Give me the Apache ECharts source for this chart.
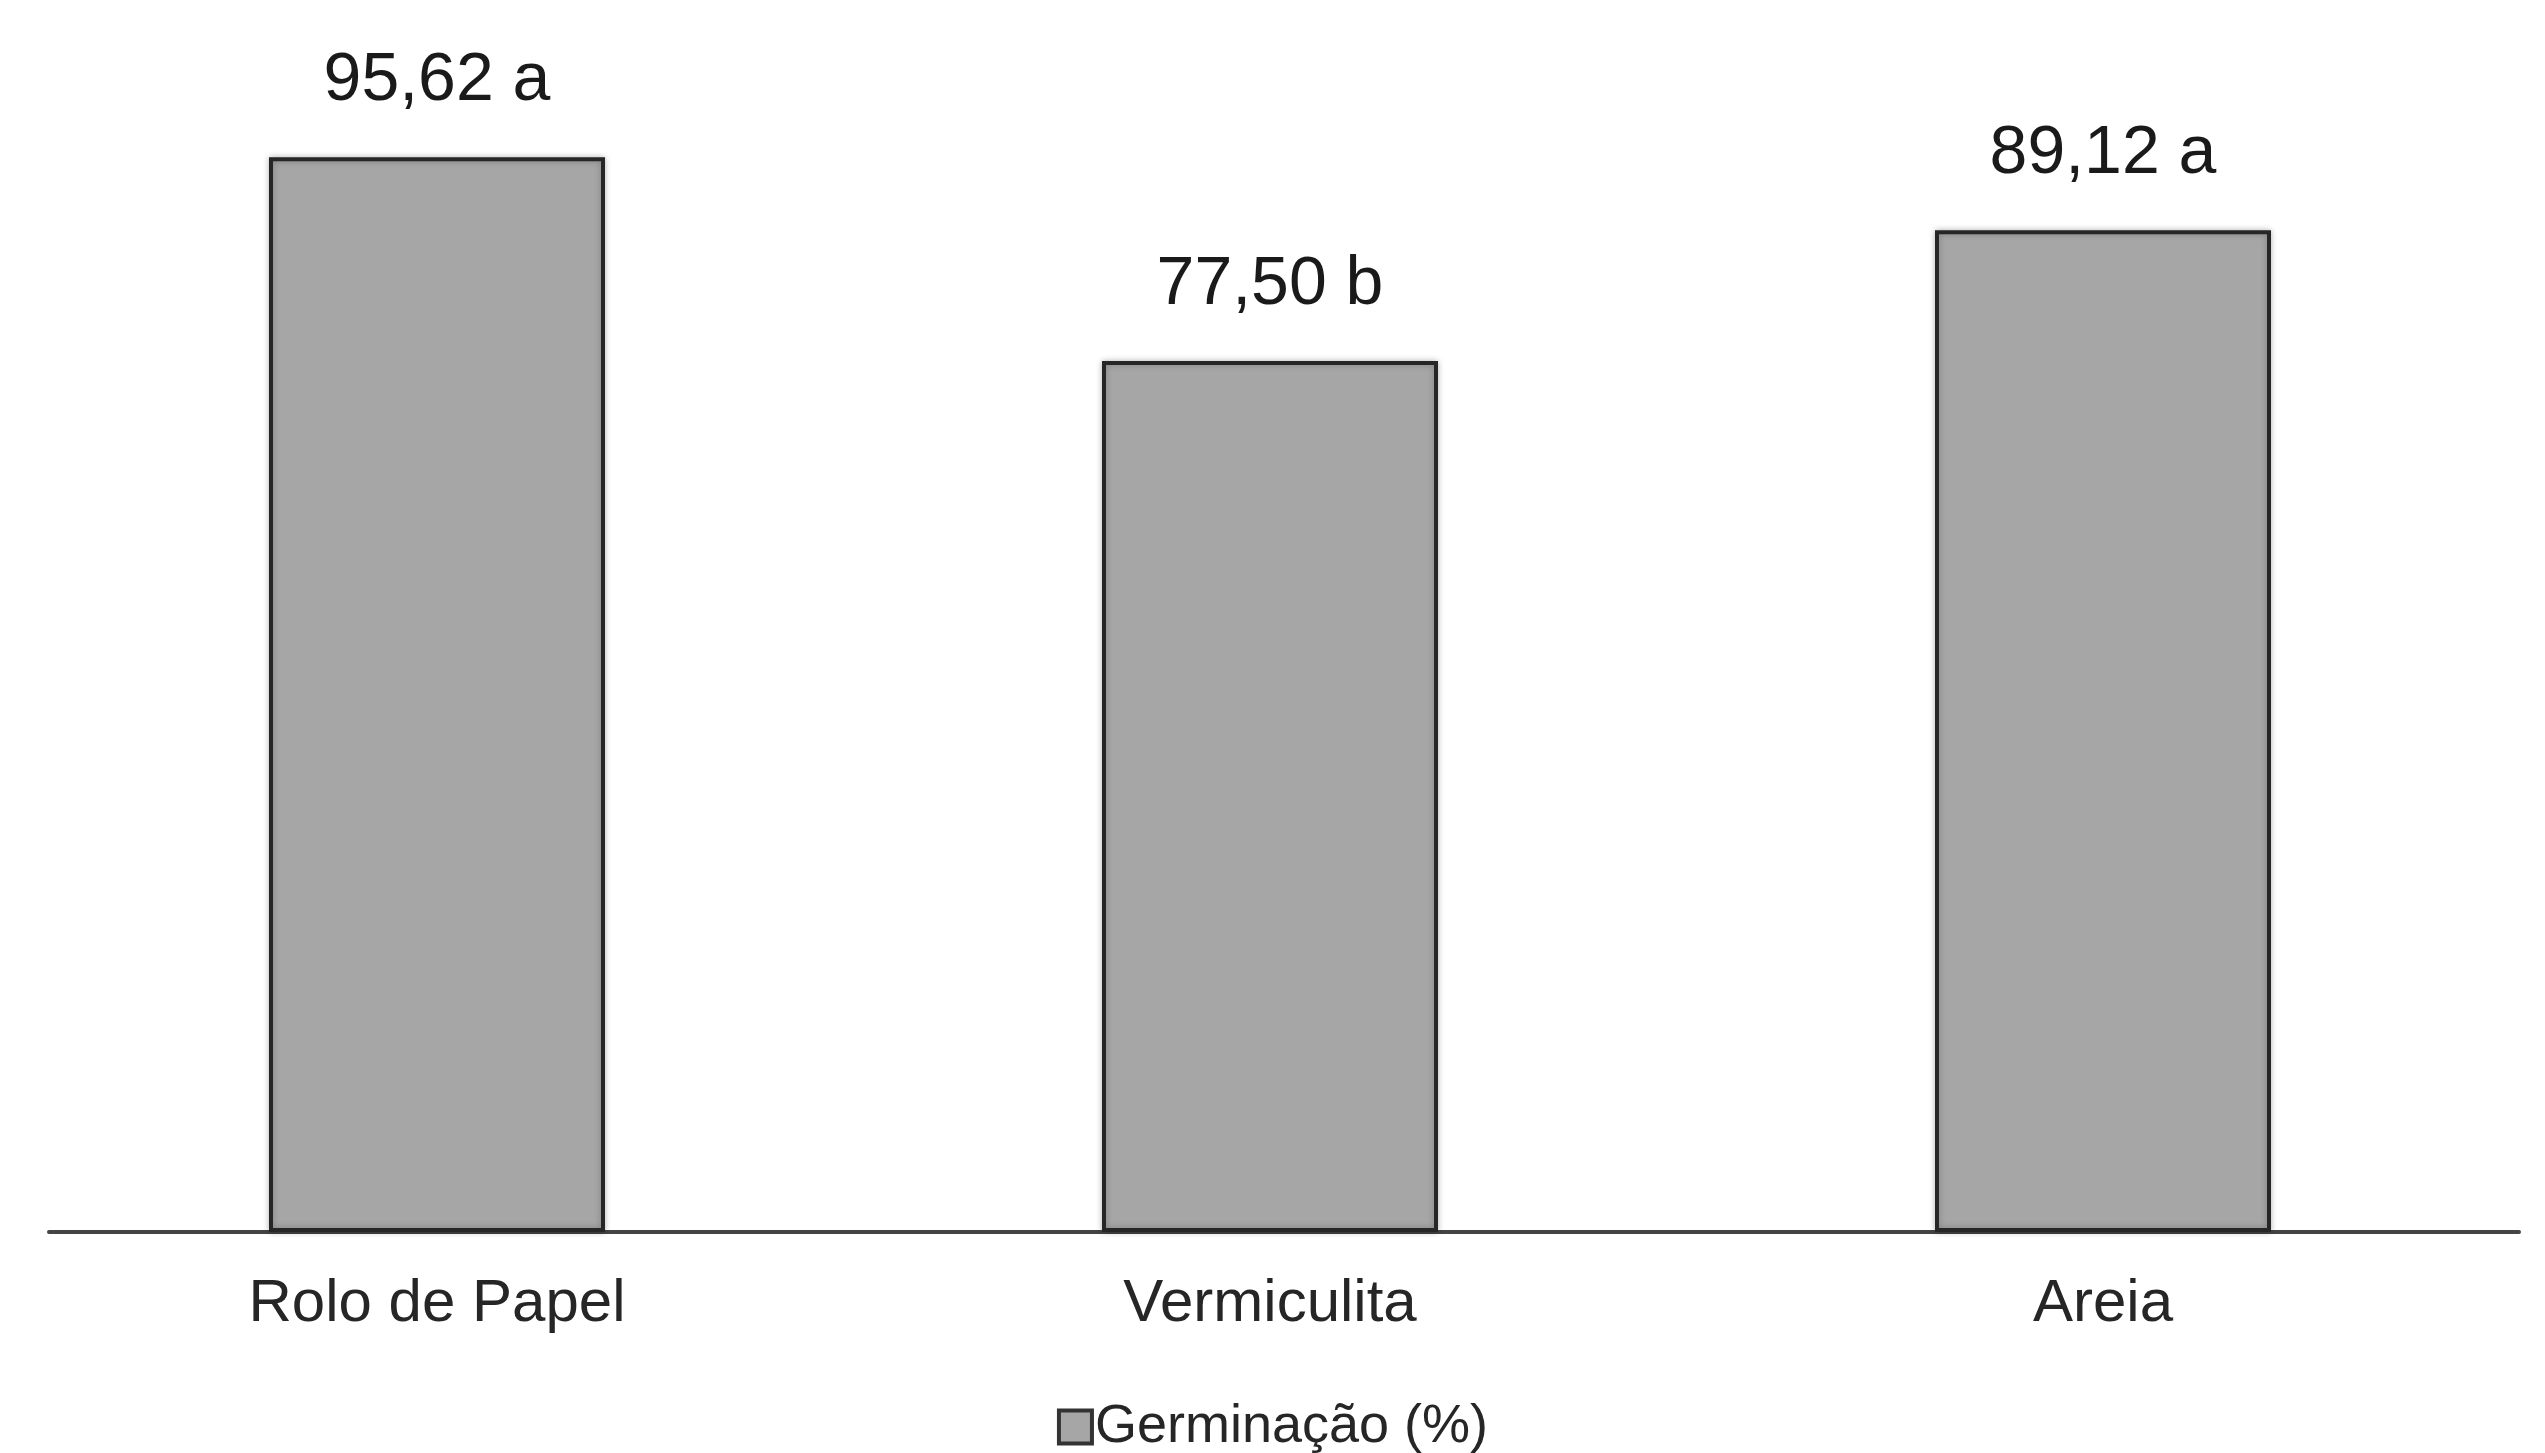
<!DOCTYPE html>
<html>
<head>
<meta charset="utf-8">
<script src="https://cdn.jsdelivr.net/npm/echarts@6/dist/echarts.min.js"></script>
<style>html,body{margin:0;padding:0;background:#fff;}#c{width:2545px;height:1453px;}</style>
</head>
<body>
<div id="c"></div>
<script>
const categories = ['Rolo de Papel', 'Vermiculita', 'Areia'];
const values = [95.62, 77.50, 89.12];
const letters = ['a', 'b', 'a'];
const seriesName = 'Germinação (%)';

const chart = echarts.init(document.getElementById('c'), null, {renderer: 'canvas'});
const font = 'Liberation Sans, Arial, sans-serif';
chart.setOption({
  backgroundColor: '#ffffff',
  animation: false,
  legend: {
    data: [{name: seriesName, icon: 'rect'}],
    bottom: -6,
    left: 'center',
    itemWidth: 33,
    itemHeight: 33,
    itemGap: 8,
    textStyle: {fontFamily: font, fontSize: 54, color: '#262626', padding: [0, 0, 0, -2]},
    itemStyle: {color: '#a6a6a6', borderColor: '#333333', borderWidth: 4}
  },
  grid: [
    {left: 20.5, right: 25.5, top: 108, bottom: 221, containLabel: false},
    {left: 49, right: 26, top: 108, bottom: 221, containLabel: false}
  ],
  xAxis: [
    {
      type: 'category', data: categories, gridIndex: 0,
      axisLine: {show: false}, axisTick: {show: false},
      axisLabel: {fontFamily: font, fontSize: 60, color: '#262626', margin: 42}
    },
    {
      type: 'value', gridIndex: 1, min: 0, max: 1,
      axisLine: {show: true, lineStyle: {color: '#444444', width: 4}},
      axisTick: {show: false}, axisLabel: {show: false}, splitLine: {show: false}
    }
  ],
  yAxis: [
    {type: 'value', gridIndex: 0, min: 0, max: 100, show: false, splitLine: {show: false}},
    {type: 'value', gridIndex: 1, min: 0, max: 1, show: false, splitLine: {show: false}}
  ],
  series: [{
    name: seriesName,
    type: 'bar',
    xAxisIndex: 0, yAxisIndex: 0,
    data: values,
    barWidth: 336,
    itemStyle: {
      color: '#a6a6a6', borderColor: '#262626', borderWidth: 4,
      shadowBlur: 6, shadowColor: 'rgba(0,0,0,0.25)'
    },
    label: {
      show: true, position: 'top', distance: 42,
      fontFamily: font, fontSize: 68, color: '#1a1a1a',
      formatter: p => values[p.dataIndex].toFixed(2).replace('.', ',') + ' ' + letters[p.dataIndex]
    }
  }]
});
</script>
</body>
</html>
